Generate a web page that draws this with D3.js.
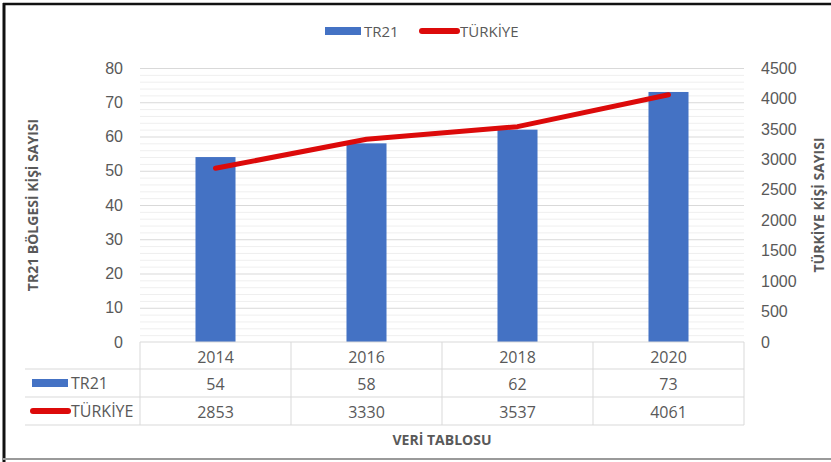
<!DOCTYPE html>
<html>
<head>
<meta charset="utf-8">
<script src="https://cdn.jsdelivr.net/npm/d3@7"></script>
<style>
  html, body { margin: 0; padding: 0; background: #fff; }
  svg { display: block; font-family: "Liberation Sans Narrow", "Open Sans", "Liberation Sans", sans-serif; }
</style>
</head>
<body>
<svg id="chart" width="831" height="462"></svg>
<script>
// Category labels and series values
const years = ["2014", "2016", "2018", "2020"];
const tr21 = [54, 58, 62, 73];
const turkiye = [2853, 3330, 3537, 4061];
const leftTicks = [0, 10, 20, 30, 40, 50, 60, 70, 80];
const rightTicks = [0, 500, 1000, 1500, 2000, 2500, 3000, 3500, 4000, 4500];
const minorTicks = d3.range(0, 81, 2);
const seriesNames = ["TR21", "TÜRKİYE"];

const BLUE = "#4472c4";
const RED = "#dc0a0a";
const TEXT = "#595959";

const svg = d3.select("#chart");
const plot = { left: 140, right: 744, top: 68, bottom: 342 };

const x = d3.scaleBand().domain(years).range([plot.left, plot.right]).paddingInner(0.735).paddingOuter(0.3675);
const xCol = d3.scaleBand().domain(years).range([plot.left, plot.right]);
const yL = d3.scaleLinear().domain([0, 80]).range([plot.bottom, plot.top]);
const yR = d3.scaleLinear().domain([0, 4500]).range([plot.bottom, plot.top]);

// Outer frame
svg.append("line").attr("x1", 3).attr("x2", 831).attr("y1", 4).attr("y2", 4)
  .attr("stroke", "#111").attr("stroke-width", 2.5);
svg.append("line").attr("x1", 4).attr("x2", 4).attr("y1", 3).attr("y2", 462)
  .attr("stroke", "#111").attr("stroke-width", 3);
svg.append("line").attr("x1", 3).attr("x2", 831).attr("y1", 459).attr("y2", 459)
  .attr("stroke", "#9a9a9a").attr("stroke-width", 2);

// Minor and major gridlines
svg.append("g")
  .attr("transform", `translate(${plot.left},0)`)
  .call(d3.axisLeft(yL).tickValues(minorTicks.filter(v => v % 10 !== 0)).tickSize(-(plot.right - plot.left)).tickFormat(""))
  .call(g => g.select(".domain").remove())
  .call(g => g.selectAll("line").attr("stroke", "#efefef").attr("stroke-width", 1));
svg.append("g")
  .attr("transform", `translate(${plot.left},0)`)
  .call(d3.axisLeft(yL).tickValues(leftTicks.filter(v => v > 0)).tickSize(-(plot.right - plot.left)).tickFormat(""))
  .call(g => g.select(".domain").remove())
  .call(g => g.selectAll("line").attr("stroke", "#d9d9d9").attr("stroke-width", 1));

// Left axis labels
svg.append("g")
  .attr("transform", `translate(${plot.left - 17},0)`)
  .call(d3.axisLeft(yL).tickValues(leftTicks).tickSize(0).tickPadding(0).tickFormat(d3.format("d")))
  .call(g => g.select(".domain").remove())
  .call(g => g.selectAll("text").attr("fill", TEXT).attr("font-size", 16).attr("font-family", null));

// Right axis labels
svg.append("g")
  .attr("transform", `translate(${plot.right + 17},0)`)
  .call(d3.axisRight(yR).tickValues(rightTicks).tickSize(0).tickPadding(0).tickFormat(d3.format("d")))
  .call(g => g.select(".domain").remove())
  .call(g => g.selectAll("text").attr("fill", TEXT).attr("font-size", 16).attr("font-family", null));

// Bars
svg.append("g").selectAll("rect").data(years).join("rect")
  .attr("x", d => x(d))
  .attr("width", x.bandwidth())
  .attr("y", (d, i) => yL(tr21[i]))
  .attr("height", (d, i) => yL(0) - yL(tr21[i]))
  .attr("fill", BLUE);

// Line on secondary axis
const line = d3.line()
  .x((d, i) => xCol(years[i]) + xCol.bandwidth() / 2)
  .y(d => yR(d));
svg.append("path").datum(turkiye)
  .attr("d", line)
  .attr("fill", "none")
  .attr("stroke", RED)
  .attr("stroke-width", 5)
  .attr("stroke-linecap", "round")
  .attr("stroke-linejoin", "round");

// Axis titles
svg.append("text")
  .attr("transform", `translate(32,205) rotate(-90)`)
  .attr("text-anchor", "middle").attr("dominant-baseline", "central")
  .attr("font-size", 14).attr("font-weight", "bold").attr("fill", TEXT)
  .text("TR21 BÖLGESİ KİŞİ SAYISI");
svg.append("text")
  .attr("transform", `translate(818,205) rotate(-90)`)
  .attr("text-anchor", "middle").attr("dominant-baseline", "central")
  .attr("font-size", 14).attr("font-weight", "bold").attr("fill", TEXT)
  .text("TÜRKİYE KİŞİ SAYISI");

// Top legend
const legend = svg.append("g");
legend.append("rect").attr("x", 325).attr("y", 27).attr("width", 36).attr("height", 8).attr("fill", BLUE);
legend.append("text").attr("x", 364).attr("y", 31).attr("dominant-baseline", "central")
  .attr("font-size", 15).attr("fill", TEXT).text(seriesNames[0]);
legend.append("line").attr("x1", 422).attr("x2", 457).attr("y1", 31).attr("y2", 31)
  .attr("stroke", RED).attr("stroke-width", 6).attr("stroke-linecap", "round");
legend.append("text").attr("x", 460).attr("y", 31).attr("dominant-baseline", "central")
  .attr("font-size", 15).attr("fill", TEXT).text(seriesNames[1]);

// Data table
const table = svg.append("g");
const rowY = [342, 369, 397, 425];
const tableLeft = 25;
const gridColor = "#d9d9d9";
table.append("line").attr("x1", plot.left).attr("x2", plot.right).attr("y1", rowY[0]).attr("y2", rowY[0])
  .attr("stroke", gridColor);
rowY.slice(1).forEach(yy => {
  table.append("line").attr("x1", tableLeft).attr("x2", plot.right).attr("y1", yy).attr("y2", yy)
    .attr("stroke", gridColor);
});
years.forEach(yv => {
  table.append("line").attr("x1", xCol(yv)).attr("x2", xCol(yv)).attr("y1", rowY[0]).attr("y2", rowY[3])
    .attr("stroke", gridColor);
});
table.append("line").attr("x1", plot.right).attr("x2", plot.right).attr("y1", rowY[0]).attr("y2", rowY[3])
  .attr("stroke", gridColor);

const cx = d => xCol(d) + xCol.bandwidth() / 2;
const rows = [years, tr21, turkiye];
rows.forEach((vals, r) => {
  table.append("g").selectAll("text").data(years).join("text")
    .attr("x", d => cx(d))
    .attr("y", (rowY[r] + rowY[r + 1]) / 2 + 1)
    .attr("text-anchor", "middle").attr("dominant-baseline", "central")
    .attr("font-size", 16).attr("fill", TEXT)
    .text((d, i) => vals[i]);
});

// Row keys
table.append("rect").attr("x", 32).attr("y", 379).attr("width", 36).attr("height", 8).attr("fill", BLUE);
table.append("text").attr("x", 71).attr("y", 383).attr("dominant-baseline", "central")
  .attr("font-size", 16).attr("fill", TEXT).text(seriesNames[0]);
table.append("line").attr("x1", 33).attr("x2", 68).attr("y1", 411).attr("y2", 411)
  .attr("stroke", RED).attr("stroke-width", 6).attr("stroke-linecap", "round");
table.append("text").attr("x", 71).attr("y", 411).attr("dominant-baseline", "central")
  .attr("font-size", 16).attr("fill", TEXT).text(seriesNames[1]);

// Table caption
svg.append("text").attr("x", 442).attr("y", 439)
  .attr("text-anchor", "middle").attr("dominant-baseline", "central")
  .attr("font-size", 14).attr("font-weight", "bold").attr("fill", TEXT)
  .text("VERİ TABLOSU");
</script>
</body>
</html>
